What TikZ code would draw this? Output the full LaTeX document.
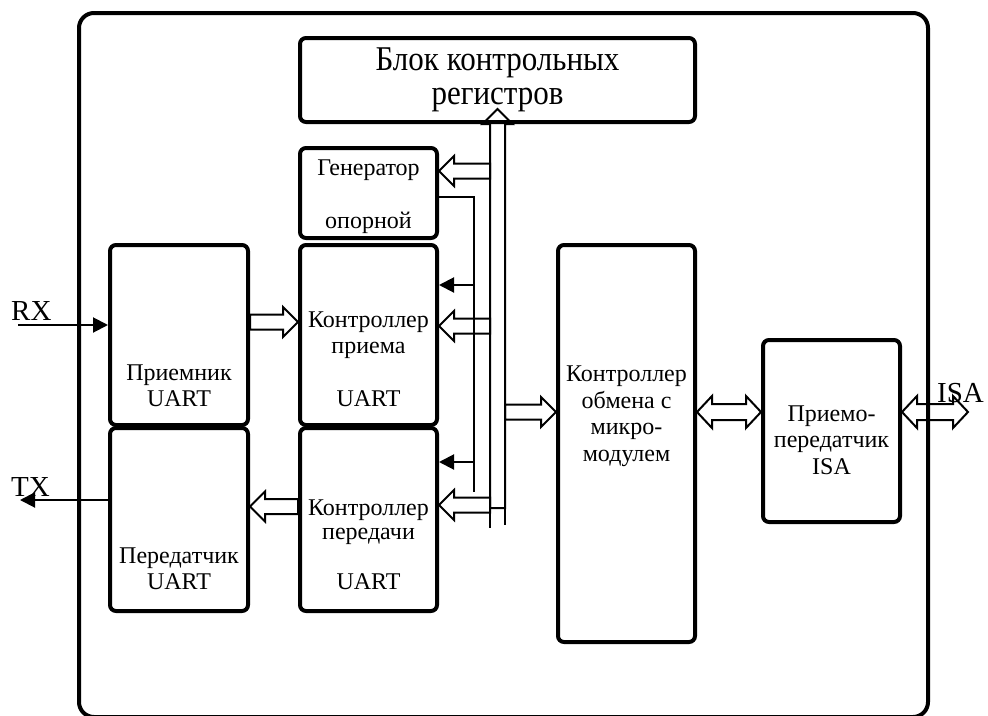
\documentclass[tikz,border=0pt]{standalone}
\usepackage{fontspec}
\setmainfont{Liberation Serif}
\usetikzlibrary{arrows.meta,positioning,calc}
\tikzset{
  ramka/.style={draw,line width=4pt,rounded corners=15pt,minimum width=849pt,minimum height=704pt},
  blok/.style={draw,line width=4pt,rounded corners=6pt,inner sep=0pt},
  tekst/.style={align=center,inner sep=0pt,font=\fontsize{24}{26.5}\selectfont},
  metka/.style={inner sep=0pt,font=\fontsize{29}{32}\selectfont},
  liniya/.style={line width=2pt},
  strelka/.style={line width=2pt,-{Triangle[length=15pt,width=15pt]}},
  polaya/.style={draw,line width=2pt,line join=miter,
    to path={let \p1=($(\tikztotarget)!15pt!(\tikztostart)$) in
      ($(\tikztostart)!7.5pt!90:(\tikztotarget)$) -- ($(\p1)!7.5pt!90:(\tikztotarget)$)
      -- ($(\p1)!15pt!90:(\tikztotarget)$) -- (\tikztotarget)
      -- ($(\p1)!15pt!-90:(\tikztotarget)$) -- ($(\p1)!7.5pt!-90:(\tikztotarget)$)
      -- ($(\tikztostart)!7.5pt!-90:(\tikztotarget)$) -- cycle}},
  polaya2/.style={draw,line width=2pt,line join=miter,
    to path={let \p1=($(\tikztostart)!15pt!(\tikztotarget)$),
      \p2=($(\tikztotarget)!15pt!(\tikztostart)$) in
      (\tikztostart) -- ($(\p1)!16pt!90:(\tikztotarget)$) -- ($(\p1)!8pt!90:(\tikztotarget)$)
      -- ($(\p2)!8pt!90:(\tikztotarget)$) -- ($(\p2)!16pt!90:(\tikztotarget)$)
      -- (\tikztotarget)
      -- ($(\p2)!16pt!-90:(\tikztotarget)$) -- ($(\p2)!8pt!-90:(\tikztotarget)$)
      -- ($(\p1)!8pt!-90:(\tikztotarget)$) -- ($(\p1)!16pt!-90:(\tikztotarget)$) -- cycle}},
}

\begin{document}
\begin{tikzpicture}[x=1pt,y=-1pt]
  \useasboundingbox (0,0) rectangle (988,715);
  \node[ramka] (ram) at (503.5,365) {};
  \node[blok,minimum width=395pt,minimum height=84pt,align=center,
    font=\fontsize{31}{34}\selectfont] (bkr) at (497.5,80)
    {\scalebox{1}[1.12]{Блок контрольных}\\\scalebox{1}[1.12]{регистров}};
  \node[blok,minimum width=137pt,minimum height=90pt] (gen) at (368.5,193) {};
  \node[blok,minimum width=137pt,minimum height=180pt] (kp) at (368.5,335) {};
  \node[blok,minimum width=137pt,minimum height=183pt] (kpd) at (368.5,519.5) {};
  \node[blok,minimum width=138pt,minimum height=180pt] (pr) at (179,335) {};
  \node[blok,minimum width=138pt,minimum height=183pt] (pd) at (179,519.5) {};
  \node[blok,minimum width=137pt,minimum height=397pt] (km) at (626.5,443.5) {};
  \node[blok,minimum width=137pt,minimum height=182pt] (isa) at (831.5,431) {};

  \node[tekst] (gent) at ([yshift=-3.4pt]gen.center) {Генератор\\[26.5pt]опорной};
  \node[tekst] (kpt) at ([yshift=-24.4pt]kp.center) {Контроллер\\приема\\[26.5pt]UART};
  \node[tekst] (kpdt) at ([yshift=-25.5pt]kpd.center) {Контроллер\\[-3pt]передачи\\[24pt]UART};
  \node[tekst] (prt) at ([yshift=-51pt]pr.center) {Приемник\\UART};
  \node[tekst] (pdt) at ([yshift=-49.5pt]pd.center) {Передатчик\\UART};
  \node[tekst] (kmt) at ([yshift=27.5pt]km.center) {Контроллер\\обмена с\\микро-\\модулем};
  \node[tekst] (isat) at ([yshift=-9pt]isa.center) {Приемо-\\передатчик\\ISA};

  \coordinate (rxin) at (18,325);
  \coordinate (txout) at (20,500);
  \coordinate (bt) at (497.5,508);
  \coordinate (b1) at (490,171);
  \coordinate (b2) at (490,326);
  \coordinate (b3) at (490,505);
  \coordinate (b4) at (505,412);
  \coordinate (g1) at (474,285);
  \coordinate (g2) at (474,462);
  \coordinate (gl) at (474,492);
  \coordinate (isay) at (0,412);
  \coordinate (isaout) at (968,412);

  \draw[strelka] (rxin) -- (rxin -| pr.west);
  \draw[strelka] (txout -| pd.west) -- (txout);
  \draw[polaya] ([yshift=13pt]pr.east) to ([yshift=13pt]kp.west);
  \draw[polaya] ([yshift=13pt]kpd.west) to ([yshift=13pt]pd.east);
  \draw[polaya] (bt) to ([yshift=15pt]bkr.south);
  \draw[liniya] ([xshift=-7.5pt]bt) -- +(0,20);
  \draw[liniya] ([xshift=7.5pt]bt) -- +(0,17);
  \draw[polaya] (b1) to (b1 -| gen.east);
  \draw[polaya] (b2) to (b2 -| kp.east);
  \draw[polaya] (b3) to (b3 -| kpd.east);
  \draw[polaya] (b4) to (b4 -| km.west);
  \draw[liniya] ([yshift=-4pt]gen.east) -| (gl);
  \draw[strelka] (g1) -- (g1 -| kp.east);
  \draw[strelka] (g2) -- (g2 -| kpd.east);
  \draw[polaya2] (km.east |- isay) to (isa.west |- isay);
  \draw[polaya2] (isa.east |- isay) to (isaout);

  \node[metka,anchor=base west] (rx) at (11,320) {RX};
  \node[metka,anchor=base west] (tx) at (11,496) {TX};
  \node[metka,anchor=base west] (isal) at (937,402) {ISA};
\end{tikzpicture}
\end{document}
